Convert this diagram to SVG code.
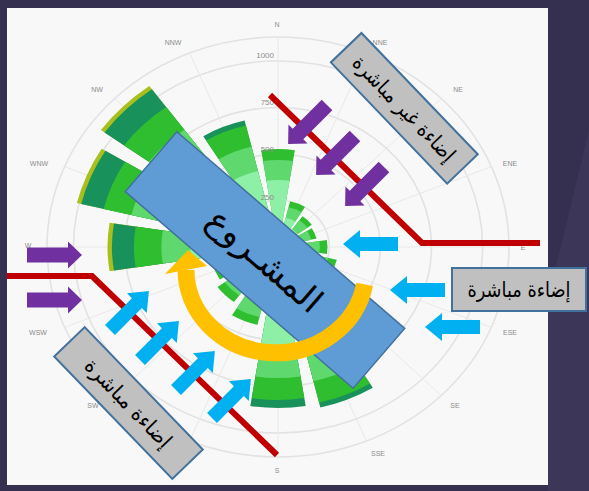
<svg xmlns="http://www.w3.org/2000/svg" xmlns:xlink="http://www.w3.org/1999/xlink" width="589" height="491" viewBox="0 0 589 491">
<style>
.ring{fill:none;stroke:#e2e2e2;stroke-width:1.6}
.spoke{stroke:#e8e8e8;stroke-width:1}
.cl{font-family:"Liberation Sans",Arial,sans-serif;font-size:7px;fill:#8c8c8c;text-anchor:middle;dominant-baseline:central}
.vl{font-family:"Liberation Sans",Arial,sans-serif;font-size:8px;fill:#8c8c8c;text-anchor:end}
.red{fill:none;stroke:#c00000;stroke-width:6;stroke-linejoin:miter}
.pur{fill:#7030a0}
.cyan{fill:#00b0f0}
.box{fill:#c0c0c0;stroke:#41719c;stroke-width:2}
.ar{font-family:"DejaVu Sans","Noto Sans",sans-serif;fill:#000;text-anchor:middle}
.Y{fill:#a8bf1e}.D{fill:#19915a}.G{fill:#2fbe2f}.L{fill:#5fd96e}.M{fill:#8ef0a6}
</style>
<defs>
<path id="w" d="M0,0 L-0.1564,-0.9877 A1,1 0 0 1 0.1564,-0.9877 Z"/>
<path id="pa" d="M0,-7.5 H41 V-13.5 L55,0 L41,13.5 V7.5 H0 Z"/>
<path id="ba" d="M0,-7 H38 V-14 L55,0 L38,14 V7 H0 Z"/>
</defs>
<g id="background">
<rect x="0" y="0" width="589" height="491" fill="#363050"/>
<polygon points="548,300 589,130 589,491 548,491" fill="#3c3759"/>
<rect x="7" y="8" width="541" height="477" fill="#f8f8f8"/>
</g>
<g id="grid">
<ellipse class="ring" cx="278" cy="247" rx="51.2" ry="46.5"/>
<ellipse class="ring" cx="278" cy="247" rx="102.3" ry="93"/>
<ellipse class="ring" cx="278" cy="247" rx="153.5" ry="139.5"/>
<ellipse class="ring" cx="278" cy="247" rx="204.6" ry="186"/>
<ellipse class="ring" cx="278" cy="247" rx="231" ry="210"/>
<line class="spoke" x1="278" y1="37" x2="278" y2="457"/>
<line class="spoke" x1="366.4" y1="53" x2="189.6" y2="441"/>
<line class="spoke" x1="441.3" y1="98.5" x2="114.7" y2="395.5"/>
<line class="spoke" x1="491.4" y1="166.6" x2="64.6" y2="327.4"/>
<line class="spoke" x1="509" y1="247" x2="47" y2="247"/>
<line class="spoke" x1="491.4" y1="327.4" x2="64.6" y2="166.6"/>
<line class="spoke" x1="441.3" y1="395.5" x2="114.7" y2="98.5"/>
<line class="spoke" x1="366.4" y1="441" x2="189.6" y2="53"/>
</g>
<g id="rose" transform="translate(278,247) scale(1.1,1)">
<use href="#w" class="G" transform="rotate(0) scale(98)"/><use href="#w" class="L" transform="rotate(0) scale(87)"/><use href="#w" class="M" transform="rotate(0) scale(67)"/>
<use href="#w" class="G" transform="rotate(22.5) scale(47)"/><use href="#w" class="L" transform="rotate(22.5) scale(41)"/><use href="#w" class="M" transform="rotate(22.5) scale(30)"/>
<use href="#w" class="G" transform="rotate(45) scale(38)"/><use href="#w" class="L" transform="rotate(45) scale(33)"/><use href="#w" class="M" transform="rotate(45) scale(22)"/>
<use href="#w" class="G" transform="rotate(67.5) scale(36)"/><use href="#w" class="L" transform="rotate(67.5) scale(31)"/><use href="#w" class="M" transform="rotate(67.5) scale(20)"/>
<use href="#w" class="G" transform="rotate(90) scale(45)"/><use href="#w" class="L" transform="rotate(90) scale(38)"/><use href="#w" class="M" transform="rotate(90) scale(26)"/>
<use href="#w" class="G" transform="rotate(112.5) scale(55)"/><use href="#w" class="L" transform="rotate(112.5) scale(47)"/><use href="#w" class="M" transform="rotate(112.5) scale(32)"/>
<use href="#w" class="G" transform="rotate(135) scale(70)"/><use href="#w" class="L" transform="rotate(135) scale(60)"/><use href="#w" class="M" transform="rotate(135) scale(42)"/>
<use href="#w" class="D" transform="rotate(157.5) scale(165)"/><use href="#w" class="G" transform="rotate(157.5) scale(160)"/><use href="#w" class="L" transform="rotate(157.5) scale(138)"/><use href="#w" class="M" transform="rotate(157.5) scale(112)"/>
<use href="#w" class="D" transform="rotate(180) scale(161)"/><use href="#w" class="G" transform="rotate(180) scale(153)"/><use href="#w" class="L" transform="rotate(180) scale(131)"/><use href="#w" class="M" transform="rotate(180) scale(105)"/>
<use href="#w" class="G" transform="rotate(202.5) scale(80)"/><use href="#w" class="L" transform="rotate(202.5) scale(72)"/><use href="#w" class="M" transform="rotate(202.5) scale(55)"/>
<use href="#w" class="G" transform="rotate(225) scale(68)"/><use href="#w" class="L" transform="rotate(225) scale(60)"/><use href="#w" class="M" transform="rotate(225) scale(45)"/>
<use href="#w" class="G" transform="rotate(247.5) scale(62)"/><use href="#w" class="L" transform="rotate(247.5) scale(55)"/><use href="#w" class="M" transform="rotate(247.5) scale(40)"/>
<use href="#w" class="Y" transform="rotate(270) scale(155)"/><use href="#w" class="D" transform="rotate(270) scale(151)"/><use href="#w" class="G" transform="rotate(270) scale(131)"/><use href="#w" class="L" transform="rotate(270) scale(106)"/><use href="#w" class="M" transform="rotate(270) scale(80)"/>
<use href="#w" class="Y" transform="rotate(292.5) scale(188)"/><use href="#w" class="D" transform="rotate(292.5) scale(184)"/><use href="#w" class="G" transform="rotate(292.5) scale(163)"/><use href="#w" class="L" transform="rotate(292.5) scale(137)"/><use href="#w" class="M" transform="rotate(292.5) scale(105)"/>
<use href="#w" class="Y" transform="rotate(315) scale(199)"/><use href="#w" class="D" transform="rotate(315) scale(195)"/><use href="#w" class="G" transform="rotate(315) scale(173)"/><use href="#w" class="L" transform="rotate(315) scale(145)"/><use href="#w" class="M" transform="rotate(315) scale(110)"/>
<use href="#w" class="D" transform="rotate(337.5) scale(130)"/><use href="#w" class="G" transform="rotate(337.5) scale(125)"/><use href="#w" class="L" transform="rotate(337.5) scale(103)"/><use href="#w" class="M" transform="rotate(337.5) scale(78)"/>
</g>
<g id="labels">
<text class="vl" x="274" y="58">1000</text>
<text class="vl" x="274" y="105">750</text>
<text class="vl" x="274" y="152">500</text>
<text class="vl" x="274" y="200">250</text>
<text class="cl" x="277" y="24">N</text>
<text class="cl" x="380" y="42">NNE</text>
<text class="cl" x="458" y="89">NE</text>
<text class="cl" x="510" y="163">ENE</text>
<text class="cl" x="523" y="247">E</text>
<text class="cl" x="510" y="332">ESE</text>
<text class="cl" x="455" y="405">SE</text>
<text class="cl" x="378" y="453">SSE</text>
<text class="cl" x="277" y="470">S</text>
<text class="cl" x="93" y="405">SW</text>
<text class="cl" x="38" y="332">WSW</text>
<text class="cl" x="28" y="245">W</text>
<text class="cl" x="39" y="163">WNW</text>
<text class="cl" x="97" y="89">NW</text>
<text class="cl" x="173" y="42">NNW</text>
</g>
<g id="connectors">
<polyline class="red" points="270,95 422,243 540,243"/>
<polyline class="red" points="7,276 92,276 277,455"/>
<use href="#pa" class="pur" transform="translate(27,255)"/>
<use href="#pa" class="pur" transform="translate(27,300)"/>
<use href="#pa" class="pur" transform="translate(327,105) rotate(135)"/>
<use href="#pa" class="pur" transform="translate(355,136) rotate(135)"/>
<use href="#pa" class="pur" transform="translate(384,167) rotate(135)"/>
<use href="#ba" class="cyan" transform="translate(398,244) rotate(180)"/>
<use href="#ba" class="cyan" transform="translate(445,290) rotate(180)"/>
<use href="#ba" class="cyan" transform="translate(480,327) rotate(180)"/>
<use href="#ba" class="cyan" transform="translate(110,330) rotate(-45)"/>
<use href="#ba" class="cyan" transform="translate(140,360) rotate(-45)"/>
<use href="#ba" class="cyan" transform="translate(176,390) rotate(-45)"/>
<use href="#ba" class="cyan" transform="translate(212,418) rotate(-45)"/>
</g>
<g id="project" transform="translate(265,260) rotate(40.8)">
<rect x="-150.5" y="-39.5" width="301" height="79" fill="#5f9bd5" stroke="#41719c" stroke-width="1.5"/>
<text class="ar" x="0" y="12" font-size="34" direction="rtl" textLength="140" lengthAdjust="spacingAndGlyphs">المشـروع</text>
</g>
<g id="rotation-arrow">
<path d="M364.6,284.4 A90,83 0 0 1 186,270" fill="none" stroke="#ffc000" stroke-width="17"/>
<polygon points="165,274 207,266 188,250" fill="#ffc000"/>
</g>
<g id="indirect-light" transform="translate(404.3,108.3) rotate(46.2)">
<rect class="box" x="-84" y="-21.2" width="168" height="42.4"/>
<text class="ar" x="0" y="7.5" font-size="21" direction="rtl" textLength="138" lengthAdjust="spacingAndGlyphs">إضاءة غير مباشرة</text>
</g>
<g id="direct-light-left" transform="translate(128.5,403) rotate(46)">
<rect class="box" x="-85" y="-21.2" width="170" height="42.4"/>
<text class="ar" x="0" y="7.5" font-size="21" direction="rtl" textLength="115" lengthAdjust="spacingAndGlyphs">إضاءة مباشرة</text>
</g>
<g id="direct-light-right">
<rect class="box" x="452" y="268" width="134" height="43"/>
<text class="ar" x="519" y="297" font-size="21" direction="rtl" textLength="103" lengthAdjust="spacingAndGlyphs">إضاءة مباشرة</text>
</g>
</svg>
